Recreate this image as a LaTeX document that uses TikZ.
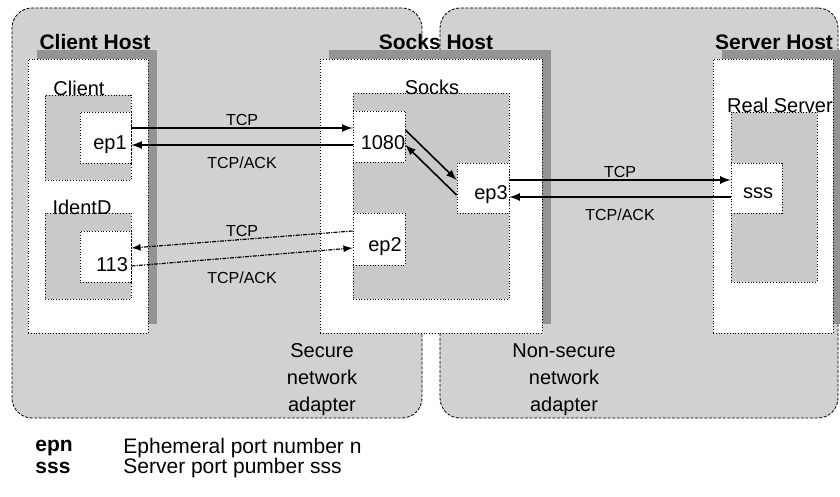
\documentclass[tikz,border=0pt]{standalone}
\usepackage{fontspec}
\setmainfont{Liberation Sans}
\usetikzlibrary{arrows,fit,shadows}
\definecolor{netgray}{gray}{0.82}
\definecolor{procgray}{gray}{0.79}
\definecolor{shadegray}{gray}{0.58}
\tikzset{
 region/.style={draw,rounded corners=10pt,fill=netgray,inner sep=0pt,dash pattern=on 1.5pt off 0.8pt},
 host/.style={draw,fill=white,densely dotted,inner sep=0pt,drop shadow={shadow xshift=4.5pt,shadow yshift=4.5pt,fill=shadegray,opacity=1}},
 proc/.style={draw,fill=procgray,densely dotted,inner sep=0pt},
 port/.style={draw,fill=white,densely dotted,inner sep=0pt},
 txt/.style={font=\fontsize{10}{13.5}\selectfont,inner sep=0pt},
 keytxt/.style={font=\fontsize{10.5}{12}\selectfont,inner sep=0pt,anchor=west},
 hosttitle/.style={font=\fontsize{10.5}{12}\selectfont\bfseries,inner sep=0pt},
 msg/.style={font=\fontsize{8}{10}\selectfont},
 flow/.style={-latex,thick},
 identflow/.style={-latex,semithick,dash pattern=on 2pt off 0.6pt on 0.6pt off 0.6pt}
}
\begin{document}
\begin{tikzpicture}[x=0.5pt,y=-0.5pt]
\useasboundingbox (0,0) rectangle (840,497);
\node (SecNet) [region,fit={(12,8) (422,418)}] {};
 \node (OpenNet) [region,fit={(440,8) (838,418)}] {};
 \node (ClientHost) [host,fit={(28,59) (148,333)}] {};
 \node (SocksHost) [host,fit={(320,59) (542,333)}] {};
 \node (ServerHost) [host,fit={(713,59) (833,333)}] {};
\node (T1) [hosttitle] at (95,42) {Client Host};
 \node (T2) [hosttitle] at (436,42) {Socks Host};
 \node (T3) [hosttitle] at (774,42) {Server Host};
\node (Client) [proc,fit={(45,95) (131,180)}] {};
 \node (IdentD) [proc,fit={(45,213) (131,299)}] {};
 \node (Socks) [proc,fit={(353,93) (509,299)}] {};
 \node (RealServer) [proc,fit={(731,112) (817,282)}] {};
\node (L1) [txt] at (79,88) {Client};
 \node (L2) [txt] at (82,207) {IdentD};
 \node (L3) [txt] at (432,87) {Socks};
 \node (L4) [txt] at (780,105) {Real Server};
\node (EP1) [port,fit={(80,112) (131,163)}] {};
 \node (P1080) [port,fit={(353,111) (405,162)}] {};
 \node (EP3) [port,fit={(457,163) (509,213)}] {};
 \node (EP2) [port,fit={(353,213) (405,265)}] {};
 \node (P113) [port,fit={(80,231) (131,282)}] {};
 \node (SSS) [port,fit={(731,163) (782,213)}] {};
\node (N1) [txt] at (110,145) {ep1};
 \node (N2) [txt] at (383,143) {1080};
 \node (N3) [txt] at (491,195) {ep3};
 \node (N4) [txt] at (385,247) {ep2};
 \node (N5) [txt] at (112,265) {113};
 \node (N6) [txt] at (758,193) {sss};
 \draw [flow] (EP1.east |- 0,128) -- (P1080.west |- 0,128) node [msg,midway,above,inner sep=1pt] {TCP};
 \draw [flow] (P1080.west |- 0,145) -- (EP1.east |- 0,145) node [msg,midway,below=2pt] {TCP/ACK};
 \draw [flow] (P1080.east |- 0,130) -- (EP3.west |- 0,180);
 \draw [flow] (EP3.west |- 0,195) -- (P1080.east |- 0,145);
 \draw [flow] (EP3.east |- 0,180) -- (SSS.west |- 0,180) node [msg,midway,above,inner sep=1pt] {TCP};
 \draw [flow] (SSS.west |- 0,197) -- (EP3.east |- 0,197) node [msg,midway,below=2pt] {TCP/ACK};
 \draw [identflow] (EP2.west |- 0,231) -- (P113.east |- 0,248) node [msg,midway,above,inner sep=1pt] {TCP};
 \draw [identflow] (P113.east |- 0,266) -- (EP2.west |- 0,248) node [msg,midway,below=4pt] {TCP/ACK};
\node (Sec) [txt,align=center] at (322,380) {Secure\\network\\adapter};
 \node (NonSec) [txt,align=center] at (564,380) {Non-secure\\network\\adapter};
\node (K1) [keytxt,font=\fontsize{10.5}{12}\selectfont\bfseries] at (35,448) {epn};
 \node (V1) [keytxt] at (123,448) {Ephemeral port number n};
 \node (K2) [keytxt,font=\fontsize{10.5}{12}\selectfont\bfseries] at (35,468) {sss};
 \node (V2) [keytxt] at (123,468) {Server port pumber sss};
\end{tikzpicture}
\end{document}
